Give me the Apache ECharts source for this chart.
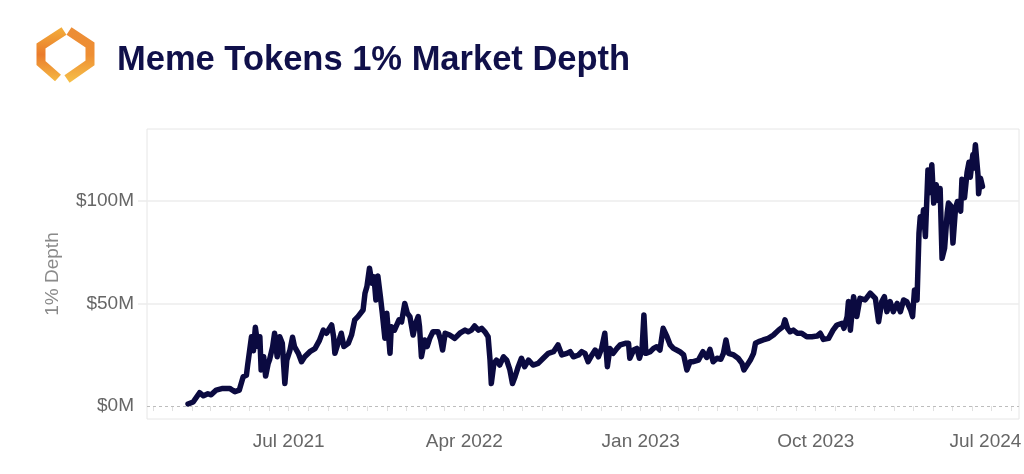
<!DOCTYPE html>
<html>
<head>
<meta charset="utf-8">
<script src="https://cdn.jsdelivr.net/npm/echarts@6/dist/echarts.min.js"></script>
<style>
html,body{margin:0;padding:0;background:#fff;}
#c{width:1024px;height:474px;}
</style>
</head>
<body>
<div id="c"></div>
<script>
var titleText = 'Meme Tokens 1% Market Depth';
var yAxisName = '1% Depth';
var yTickValues = [0, 50, 100];
var yTickLabels = ['$0M', '$50M', '$100M'];
var xTickDates = ['2021-07-01', '2022-04-01', '2023-01-01', '2023-10-01', '2024-07-01'];
var xTickLabels = ['Jul 2021', 'Apr 2022', 'Jan 2023', 'Oct 2023', 'Jul 2024'];
var xMin = '2020-11-22';
var xMax = '2024-08-13';

var dates = [
'2021-01-25','2021-02-02','2021-02-12','2021-02-18','2021-02-25','2021-03-02','2021-03-10','2021-03-20','2021-03-31','2021-04-08',
'2021-04-15','2021-04-21','2021-04-26','2021-04-28','2021-05-04','2021-05-07','2021-05-10','2021-05-14','2021-05-17','2021-05-19',
'2021-05-23','2021-05-26','2021-05-30','2021-06-01','2021-06-06','2021-06-09','2021-06-13','2021-06-17','2021-06-21','2021-06-25',
'2021-06-28','2021-07-03','2021-07-07','2021-07-10','2021-07-16','2021-07-21','2021-07-26','2021-08-03','2021-08-11','2021-08-18',
'2021-08-24','2021-08-29','2021-09-06','2021-09-09','2021-09-11','2021-09-16','2021-09-21','2021-09-25','2021-10-02','2021-10-07',
'2021-10-12','2021-10-17','2021-10-20','2021-10-25','2021-10-28','2021-10-31','2021-11-04','2021-11-08','2021-11-11','2021-11-14',
'2021-11-17','2021-11-21','2021-11-24','2021-11-28','2021-12-01','2021-12-06','2021-12-08','2021-12-13','2021-12-20','2021-12-24',
'2021-12-29','2022-01-02','2022-01-06','2022-01-11','2022-01-15','2022-01-19','2022-01-21','2022-01-24','2022-01-29','2022-02-02',
'2022-02-06','2022-02-11','2022-02-19','2022-02-23','2022-02-26','2022-03-02','2022-03-09','2022-03-17','2022-03-25','2022-04-02',
'2022-04-07','2022-04-12','2022-04-17','2022-04-23','2022-04-28','2022-05-03','2022-05-08','2022-05-11','2022-05-13','2022-05-17',
'2022-05-21','2022-05-26','2022-06-01','2022-06-06','2022-06-11','2022-06-15','2022-06-19','2022-06-24','2022-06-29','2022-07-04',
'2022-07-10','2022-07-17','2022-07-25','2022-08-02','2022-08-10','2022-08-18','2022-08-25','2022-08-31','2022-09-08','2022-09-13',
'2022-09-18','2022-09-26','2022-10-01','2022-10-06','2022-10-11','2022-10-17','2022-10-22','2022-10-27','2022-11-01','2022-11-06',
'2022-11-10','2022-11-14','2022-11-19','2022-11-25','2022-11-30','2022-12-08','2022-12-13','2022-12-15','2022-12-21','2022-12-26',
'2022-12-30','2023-01-03','2023-01-06','2023-01-09','2023-01-16','2023-01-21','2023-01-26','2023-01-31','2023-02-05','2023-02-11',
'2023-02-16','2023-02-21','2023-02-26','2023-03-03','2023-03-09','2023-03-14','2023-03-19','2023-03-24','2023-04-01','2023-04-08',
'2023-04-14','2023-04-19','2023-04-24','2023-04-30','2023-05-06','2023-05-10','2023-05-14','2023-05-18','2023-05-26','2023-06-02',
'2023-06-08','2023-06-11','2023-06-16','2023-06-21','2023-06-26','2023-06-29','2023-07-04','2023-07-11','2023-07-19','2023-07-27',
'2023-08-04','2023-08-11','2023-08-14','2023-08-18','2023-08-22','2023-08-27','2023-09-02','2023-09-09','2023-09-17','2023-09-25',
'2023-10-03','2023-10-08','2023-10-13','2023-10-21','2023-10-28','2023-11-03','2023-11-11','2023-11-14','2023-11-19','2023-11-21',
'2023-11-24','2023-11-29','2023-12-04','2023-12-09','2023-12-17','2023-12-25','2024-01-02','2024-01-07','2024-01-12','2024-01-16',
'2024-01-20','2024-01-25','2024-01-30','2024-02-05','2024-02-10','2024-02-15','2024-02-20','2024-02-26','2024-02-29','2024-03-03',
'2024-03-07','2024-03-10','2024-03-12','2024-03-15','2024-03-17','2024-03-20','2024-03-24','2024-03-27','2024-03-30','2024-04-02',
'2024-04-06','2024-04-10','2024-04-12','2024-04-15','2024-04-19','2024-04-23','2024-04-25','2024-04-29','2024-05-02','2024-05-06',
'2024-05-09','2024-05-14','2024-05-16','2024-05-20','2024-05-24','2024-05-27','2024-05-29','2024-06-02','2024-06-03','2024-06-06',
'2024-06-10','2024-06-11','2024-06-14','2024-06-17'
];
var depthM = [
1,2,6.5,5,6,5.5,7.8,8.6,8.6,7,
7.8,14.3,15,20,33.8,27,38.4,29,33.8,17.6,
24,14.6,20.8,22.4,29,35.5,24,33.8,30.6,11,
22.4,27.3,33.5,29,25.7,21.6,24,26.5,28,32,
37,35.5,39.5,33.8,25.7,30.6,35.5,29,30.6,34.6,
42,43.6,44.4,46.8,55,58.2,67.2,59.8,63,51.7,
63.4,53.3,45.2,33,45.2,25.7,38.7,37,42,41,
50,45.2,43.6,34.6,40.3,43.6,38.7,24,32.2,29,
33,36.2,36.2,32.2,27.3,35.5,34.6,33,35.5,37,
36.2,37,39,37,37.9,36.2,33.8,22.4,11,20.8,
22.4,20,24,22.4,17.6,11,14.3,19.2,23.3,19.2,
22.4,20,20.8,23.3,25.7,26.5,29.8,24.9,25.7,26.5,
24,24.9,26.5,25.7,21.6,24.9,27.3,24,28.1,35.5,
19.2,28.1,25.7,28.1,29.8,30.6,30.6,23.3,27.3,28.1,
23.3,27.3,44.4,25.7,26.5,28.1,28.9,27.3,37.9,33.8,
29.8,28.1,27.3,26.5,24.9,17.6,21.6,21.6,22.4,26.5,
23.7,27.6,21.6,23.3,22.8,25.7,32.2,25.7,24.9,23.3,
20.8,17.6,20,22.4,25.7,30.6,31.4,32.2,33,34.6,
37,38.7,42,37.9,36.2,37,35.5,35.5,33.8,33.8,
34.1,35.5,32.5,33,37,39.5,40.3,37.9,43.6,50.9,
37,53.3,43.6,52.5,51.7,55,52.5,41.1,50.9,53.3,
46,50.9,46,50,46,51.7,50.9,46.8,43.6,56.6,
51.7,84.2,92.3,87.5,95.6,82.6,115,104,117.6,98.9,
107.8,100,106,72,77,94,98.9,97.5,79.4,96.5,
99.7,95,110.5,101.5,113.8,118.8,111.5,122.4,116,127.3,
112.7,103.5,111,107
];

function toTs(s){ var p = s.split('-'); return Date.UTC(+p[0], +p[1]-1, +p[2]); }
var seriesData = dates.map(function(d,i){ return [toTs(d), depthM[i]]; });
var labelTs = xTickDates.map(toTs);
var minTs = toTs(xMin), maxTs = toTs(xMax);
var monthTicks = [];
for (var y = 2020; y <= 2024; y++) {
  for (var m = 0; m < 12; m++) {
    var t = Date.UTC(y, m, 1);
    if (t > minTs && t < maxTs) monthTicks.push(t);
  }
}

var chart = echarts.init(document.getElementById('c'), null, {renderer:'canvas'});
var font = 'Liberation Sans, Arial, Helvetica, sans-serif';
var option = {
  animation: false,
  backgroundColor: '#ffffff',
  title: {
    text: titleText,
    left: 112, top: 35,
    textStyle: { fontFamily: font, fontSize: 34.5, fontWeight: 'bold', color: '#10104a', lineHeight: 40 }
  },
  graphic: [
    { type: 'polyline', silent: true,
      shape: { points: [[64,31],[41,46],[41,63],[58,78]] },
      style: { lineWidth: 9, lineJoin: 'miter', fill: null,
        stroke: new echarts.graphic.LinearGradient(0,0,0,1,[{offset:0,color:'#f3b03c'},{offset:0.5,color:'#ea7b2b'},{offset:1,color:'#f5bb45'}]) } },
    { type: 'polyline', silent: true,
      shape: { points: [[69,31],[90,45],[90,63],[67,79]] },
      style: { lineWidth: 9, lineJoin: 'miter', fill: null,
        stroke: new echarts.graphic.LinearGradient(0,0,0,1,[{offset:0,color:'#ec8d36'},{offset:0.5,color:'#ee8e33'},{offset:1,color:'#f6c24a'}]) } }
  ],
  grid: { left: 147, right: 5, top: 129, bottom: 55, show: true, borderColor: '#e6e6e6', borderWidth: 1,
          containLabel: false, outerBoundsMode: 'none' },
  xAxis: {
    type: 'value', min: minTs, max: maxTs, scale: true,
    axisLine: { show: false },
    splitLine: { show: false },
    axisTick: { show: true, customValues: monthTicks, length: 5, lineStyle: { color: '#e0e0e0', width: 1 } },
    axisLabel: {
      customValues: labelTs, margin: 13, fontFamily: font, fontSize: 19, color: '#666666',
      hideOverlap: false,
      formatter: function(v){
        var i = labelTs.indexOf(v);
        if (i < 0) return '';
        return i === labelTs.length - 1 ? '{last|' + xTickLabels[i] + '}' : xTickLabels[i];
      },
      rich: { last: { fontFamily: font, fontSize: 19, color: '#666666', padding: [0, 12, 0, 0] } }
    }
  },
  yAxis: {
    type: 'value', min: -6.3, max: 135,
    name: yAxisName, nameLocation: 'middle', nameGap: 85, nameRotate: 90,
    nameTextStyle: { fontFamily: font, fontSize: 19, color: '#8a8a8a' },
    axisLine: { show: false },
    axisTick: { show: true, customValues: [50, 100], length: 9, lineStyle: { color: '#ececec', width: 1.5 } },
    splitLine: { show: true, lineStyle: { color: '#ececec', width: 1.5 } },
    axisLabel: {
      customValues: yTickValues, margin: 13, fontFamily: font, fontSize: 19, color: '#666666',
      formatter: function(v){ var i = yTickValues.indexOf(v); return i >= 0 ? yTickLabels[i] : ''; }
    }
  },
  series: [{
    type: 'line', data: seriesData, showSymbol: false, symbol: 'none',
    lineStyle: { color: '#0b0a40', width: 5.5, cap: 'round', join: 'round' },
    markLine: {
      silent: true, symbol: 'none', label: { show: false },
      lineStyle: { color: '#bdbdbd', type: [3, 3], width: 1 },
      data: [{ yAxis: 0 }]
    },
    z: 3
  }]
};
chart.setOption(option);
</script>
</body>
</html>
